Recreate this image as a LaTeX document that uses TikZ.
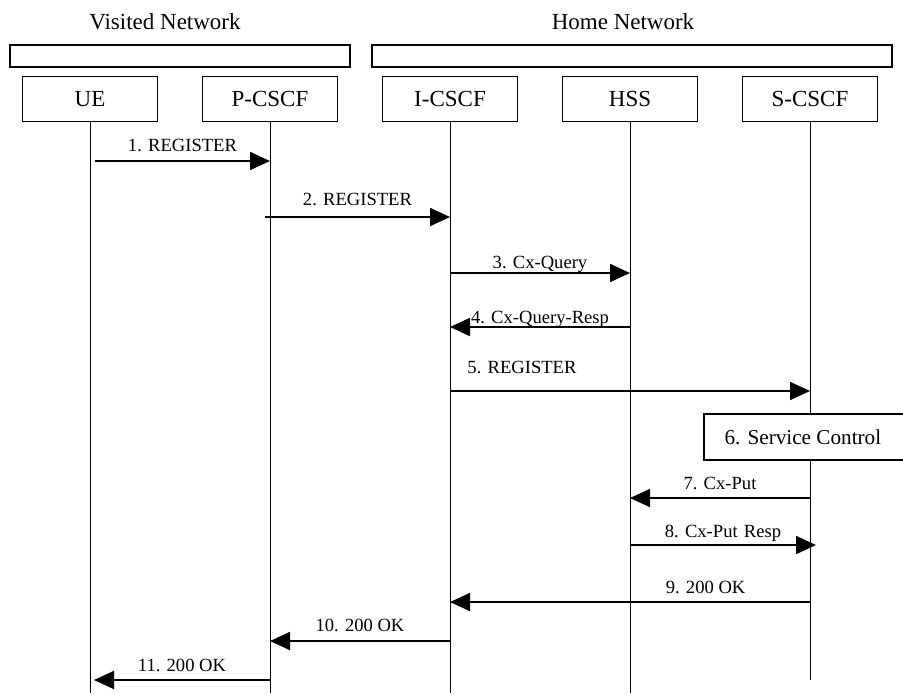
\documentclass[tikz,border=0pt]{standalone}
\usepackage{fontspec}
\setmainfont{Liberation Serif}
\usetikzlibrary{arrows.meta,positioning}

\begin{document}
\begin{tikzpicture}[x=0.5pt,y=-0.5pt,node distance=21.6pt,
  entity/.style={draw,line width=0.9pt,minimum width=67.5pt,minimum height=22.5pt,font=\fontsize{11.5}{14}\selectfont},
  netbar/.style={draw,line width=0.9pt,minimum height=11pt,inner sep=0pt},
  nettitle/.style={font=\fontsize{11.5}{14}\selectfont},
  life/.style={line width=0.5pt},
  msg/.style={line width=0.9pt,-{Triangle[length=10pt,width=9pt]}},
  lbl/.style={anchor=base,inner sep=0pt,font=\fontsize{9.3}{11}\selectfont}]
\useasboundingbox (0,0) rectangle (903,693);

% networks
\node[nettitle] (vtitle) at (165,22) {Visited Network};
\node[nettitle] (htitle) at (623,22) {Home Network};
\node[netbar,minimum width=170pt] (vbar) at (180,56) {};
\node[netbar,minimum width=260pt] (hbar) at (632,56) {};

% entity boxes
\node[entity] (ue) at (90,99) {UE};
\node[entity,right=of ue] (pcscf) {P-CSCF};
\node[entity,right=of pcscf] (icscf) {I-CSCF};
\node[entity,right=of icscf] (hss) {HSS};
\node[entity,right=of hss] (scscf) {S-CSCF};

% life lines
\coordinate (bot) at (0,693);
\coordinate (sbot) at (0,680);
\draw[life] (ue) -- (ue |- bot);
\draw[life] (pcscf) -- (pcscf |- bot);
\draw[life] (icscf) -- (icscf |- bot);
\draw[life] (hss) -- (hss |- bot);
\draw[life] (scscf) -- (scscf |- sbot);

\node[draw,fill=white,line width=0.9pt,minimum width=106pt,minimum height=23pt,anchor=west,
  font=\fontsize{10.6}{13}\selectfont] (svc) at (703,437) {\hspace*{-7pt}6. Service Control};

% messages
\draw[msg] ([xshift=2.5pt]ue |- 0,161) -- node[lbl,yshift=5pt] {1. REGISTER} (pcscf |- 0,161);
\draw[msg] ([xshift=-2.5pt]pcscf |- 0,217) -- node[lbl,yshift=6pt] {2. REGISTER} (icscf |- 0,217);
\draw[msg] (icscf |- 0,273) -- node[lbl,yshift=2.5pt] {3. Cx-Query} (hss |- 0,273);
\draw[msg] (hss |- 0,327) -- node[lbl,yshift=2pt] {4. Cx-Query-Resp} (icscf |- 0,327);
\draw[msg] (icscf |- 0,391) -- node[lbl,pos=0.2,yshift=9pt] {5. REGISTER} (scscf |- 0,391);
\draw[msg] (scscf |- 0,498) -- node[lbl,yshift=4.5pt] {7. Cx-Put} (hss |- 0,498);
\draw[msg] (hss |- 0,545) -- node[lbl,yshift=4pt] {8. Cx-Put\,\,Resp} ([xshift=3pt]scscf |- 0,545);
\draw[msg] (scscf |- 0,602) -- node[lbl,pos=0.29,yshift=4.5pt] {9. 200 OK} (icscf |- 0,602);
\draw[msg] (icscf |- 0,641) -- node[lbl,yshift=5pt] {10. 200 OK} (pcscf |- 0,641);
\draw[msg] (pcscf |- 0,680) -- node[lbl,yshift=4.5pt] {11. 200 OK} ([xshift=2pt]ue |- 0,680);

\end{tikzpicture}
\end{document}
